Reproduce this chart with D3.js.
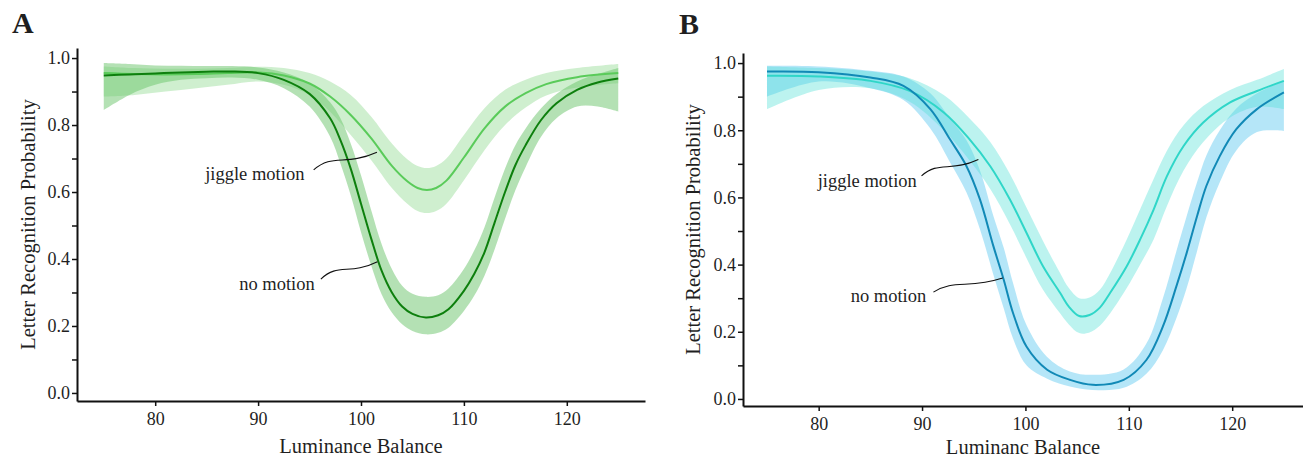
<!DOCTYPE html>
<html>
<head>
<meta charset="utf-8">
<script src="https://cdn.jsdelivr.net/npm/d3@7"></script>
<style>
  html, body { margin: 0; padding: 0; background: #fff; }
  svg { display: block; }
  text { font-family: "Liberation Serif", "Times New Roman", serif; fill: #1f1f1f; }
</style>
</head>
<body>
<svg id="chart" width="1303" height="459"></svg>
<script>
// ---------- data ----------
const xTicks = [80, 90, 100, 110, 120];
const yTicks = [0, 0.1, 0.2, 0.3, 0.4, 0.5, 0.6, 0.7, 0.8, 0.9, 1.0];
const yLabelTicks = [0, 0.2, 0.4, 0.6, 0.8, 1.0];
const seriesNames = ["no motion", "jiggle motion"];

// Panel A - no motion
const aNoX  = [75,77.5,80,82.5,85,87.5,90,92.5,95,97,98,99,100,101,102,103,104,105,106.3,107.5,108.5,110,111,112,113,114,115,116,117.5,119,121,123,125];
const aNoY  = [0.948,0.951,0.954,0.957,0.959,0.960,0.955,0.935,0.893,0.82,0.755,0.67,0.565,0.46,0.365,0.30,0.258,0.236,0.225,0.232,0.25,0.305,0.355,0.42,0.51,0.60,0.68,0.74,0.815,0.865,0.905,0.927,0.939];
const aNoHi = [0.985,0.982,0.978,0.977,0.976,0.976,0.972,0.957,0.925,0.868,0.82,0.745,0.65,0.545,0.445,0.37,0.32,0.296,0.287,0.292,0.312,0.37,0.425,0.495,0.585,0.67,0.74,0.79,0.85,0.893,0.93,0.952,0.97];
const aNoLo = [0.845,0.89,0.92,0.935,0.94,0.942,0.935,0.91,0.855,0.765,0.685,0.59,0.48,0.38,0.295,0.24,0.205,0.185,0.175,0.18,0.195,0.245,0.29,0.35,0.43,0.52,0.605,0.675,0.765,0.82,0.855,0.855,0.84];

// Panel A - jiggle motion
const aJigX  = [75,78,81,84,87,90,92.5,95,97,99,101,103,104.5,105.5,106.4,107.3,108.3,110,112,114,116,118,121,125];
const aJigY  = [0.955,0.952,0.951,0.952,0.955,0.957,0.948,0.924,0.885,0.83,0.76,0.678,0.632,0.612,0.606,0.612,0.634,0.703,0.79,0.855,0.895,0.922,0.943,0.955];
const aJigHi = [0.975,0.97,0.968,0.968,0.97,0.974,0.97,0.955,0.93,0.89,0.825,0.745,0.698,0.678,0.672,0.678,0.70,0.77,0.85,0.905,0.935,0.955,0.97,0.982];
const aJigLo = [0.885,0.89,0.9,0.91,0.92,0.93,0.92,0.89,0.84,0.77,0.695,0.612,0.565,0.543,0.537,0.543,0.565,0.635,0.725,0.8,0.852,0.888,0.912,0.925];

// Panel B - no motion
const bNoX  = [75,80,85,88.2,90.8,92.7,94.3,95.6,96.9,97.9,98.8,100.1,102.1,104.3,106.5,109.5,111.7,113.3,114.6,115.6,116.6,117.5,118.8,120.4,122.4,125];
const bNoY  = [0.975,0.973,0.957,0.932,0.863,0.773,0.693,0.594,0.455,0.355,0.256,0.156,0.087,0.057,0.042,0.057,0.116,0.216,0.335,0.435,0.544,0.634,0.723,0.803,0.863,0.913];
const bNoHi = [0.992,0.99,0.977,0.96,0.91,0.835,0.77,0.68,0.545,0.45,0.345,0.22,0.125,0.082,0.072,0.088,0.165,0.30,0.44,0.545,0.645,0.725,0.80,0.865,0.91,0.947];
const bNoLo = [0.90,0.945,0.925,0.89,0.805,0.705,0.615,0.505,0.37,0.27,0.18,0.10,0.06,0.037,0.027,0.033,0.075,0.145,0.24,0.33,0.44,0.54,0.645,0.74,0.795,0.798];

// Panel B - jiggle motion
const bJigX  = [75,80,85,88.8,92.1,94.6,96.6,98.5,100.1,101.7,103.35,104.2,105.2,106.2,107.2,108.2,109.8,111.1,112.4,113.7,115.3,117.2,119.8,122.4,125];
const bJigY  = [0.962,0.96,0.947,0.917,0.853,0.773,0.693,0.594,0.495,0.395,0.316,0.275,0.247,0.25,0.272,0.316,0.395,0.475,0.564,0.664,0.753,0.823,0.883,0.917,0.947];
const bJigHi = [0.99,0.985,0.975,0.955,0.905,0.835,0.765,0.67,0.57,0.47,0.375,0.33,0.30,0.302,0.325,0.375,0.475,0.565,0.655,0.74,0.815,0.872,0.92,0.95,0.982];
const bJigLo = [0.863,0.92,0.925,0.885,0.80,0.71,0.625,0.52,0.42,0.325,0.255,0.222,0.196,0.198,0.218,0.255,0.33,0.40,0.475,0.575,0.68,0.765,0.838,0.87,0.863];

// annotation anchors (data units): text end, connector start, connector end
const annA = [
  { label: "jiggle motion", tx: 94.5, ty: 0.636, sx: 95.4, sy: 0.666, ex: 101.55, ey: 0.719 },
  { label: "no motion",     tx: 95.5, ty: 0.307, sx: 96.1, sy: 0.340, ex: 101.6,  ey: 0.392 }
];
const annB = [
  { label: "jiggle motion", tx: 89.5, ty: 0.630, sx: 89.95, sy: 0.664, ex: 95.45, ey: 0.713 },
  { label: "no motion",     tx: 90.4, ty: 0.290, sx: 91.1,  sy: 0.318, ex: 97.8,  ey: 0.360 }
];

// ---------- drawing ----------
const svg = d3.select("#chart");

function zip(xs, ys, lo, hi) {
  return xs.map((x, i) => ({ x, y: ys[i], lo: lo[i], hi: hi[i] }));
}

function panel(cfg) {
  const g = svg.append("g");
  const x = d3.scaleLinear().domain(cfg.xDomain).range(cfg.xRange);
  const y = d3.scaleLinear().domain(cfg.yDomain).range(cfg.yRange);
  const curve = d3.curveCatmullRom.alpha(0.5);

  const area = d3.area().x(d => x(d.x)).y0(d => y(d.lo)).y1(d => y(d.hi)).curve(curve);
  const line = d3.line().x(d => x(d.x)).y(d => y(d.y)).curve(curve);

  cfg.series.forEach(s => {
    g.append("path").datum(s.data).attr("d", area)
      .attr("fill", s.band).attr("fill-opacity", s.bandOpacity).attr("stroke", "none");
  });
  cfg.series.slice().reverse().forEach(s => {
    g.append("path").datum(s.data).attr("d", line)
      .attr("fill", "none").attr("stroke", s.color).attr("stroke-width", 2);
  });

  // axes
  const yAxis = d3.axisLeft(y).tickValues(yTicks).tickSize(5).tickSizeOuter(0).tickPadding(2)
    .tickFormat(d => yLabelTicks.some(v => Math.abs(v - d) < 1e-9) ? d3.format(".1f")(d) : "");
  const xAxis = d3.axisBottom(x).tickValues(xTicks).tickSize(5).tickSizeOuter(0).tickPadding(6)
    .tickFormat(d3.format("d"));

  const ya = g.append("g").attr("transform", `translate(${cfg.xRange[0]},0)`).call(yAxis);
  const xa = g.append("g").attr("transform", `translate(0,${cfg.yRange[0]})`).call(xAxis);
  [ya, xa].forEach(a => {
    a.select(".domain").attr("stroke", "#111").attr("stroke-width", 2);
    a.selectAll(".tick line").attr("stroke", "#111").attr("stroke-width", 1.5);
    a.selectAll(".tick text").attr("font-family", "'Liberation Serif', 'Times New Roman', serif")
      .attr("font-size", 18).attr("fill", "#1f1f1f");
  });

  // axis titles
  g.append("text").attr("x", (cfg.xRange[0] + cfg.xRange[1]) / 2).attr("y", cfg.xTitleY)
    .attr("text-anchor", "middle").attr("font-size", 20.5).text(cfg.xTitle);
  g.append("text")
    .attr("transform", `translate(${cfg.yTitleX},${(cfg.yRange[0] + cfg.yRange[1]) / 2}) rotate(-90)`)
    .attr("text-anchor", "middle").attr("font-size", 20.5).text(cfg.yTitle);

  // panel letter
  g.append("text").attr("x", cfg.letterX).attr("y", cfg.letterY)
    .attr("font-size", 30).attr("font-weight", "bold").text(cfg.letter);

  // annotations
  cfg.ann.forEach(a => {
    g.append("text").attr("x", x(a.tx)).attr("y", y(a.ty))
      .attr("text-anchor", "end").attr("font-size", 18.5).text(a.label);
    const x0 = x(a.sx), y0 = y(a.sy), x1 = x(a.ex), y1 = y(a.ey);
    const dx = x1 - x0, dy = y1 - y0;
    const p = d3.path();
    p.moveTo(x0, y0);
    p.bezierCurveTo(x0 + 0.3 * dx, y0 + 0.95 * dy, x0 + 0.5 * dx, y0 + 0.2 * dy, x1, y1);
    g.append("path").attr("d", p.toString()).attr("fill", "none")
      .attr("stroke", "#111").attr("stroke-width", 1.1);
  });
}

panel({
  xDomain: [72.4, 127.6], xRange: [77, 645],
  yDomain: [-0.024, 1.03], yRange: [401, 48],
  xTitle: "Luminance Balance", xTitleY: 453,
  yTitle: "Letter Recognition Probability", yTitleX: 35,
  letter: "A", letterX: 12, letterY: 33,
  ann: annA,
  series: [
    { name: seriesNames[0], data: zip(aNoX, aNoY, aNoLo, aNoHi), color: "#0d7f0d", band: "#4cb84c", bandOpacity: 0.42 },
    { name: seriesNames[1], data: zip(aJigX, aJigY, aJigLo, aJigHi), color: "#5acb5a", band: "#6acc6a", bandOpacity: 0.32 }
  ]
});

panel({
  xDomain: [72.68, 126.85], xRange: [743, 1303],
  yDomain: [-0.021, 1.03], yRange: [406, 53],
  xTitle: "Luminanc Balance", xTitleY: 454,
  yTitle: "Letter Recognition Probability", yTitleX: 700,
  letter: "B", letterX: 679, letterY: 34,
  ann: annB,
  series: [
    { name: seriesNames[0], data: zip(bNoX, bNoY, bNoLo, bNoHi), color: "#1189b6", band: "#5bc8f0", bandOpacity: 0.45 },
    { name: seriesNames[1], data: zip(bJigX, bJigY, bJigLo, bJigHi), color: "#2fd6c8", band: "#4fe0d5", bandOpacity: 0.38 }
  ]
});
</script>
</body>
</html>
